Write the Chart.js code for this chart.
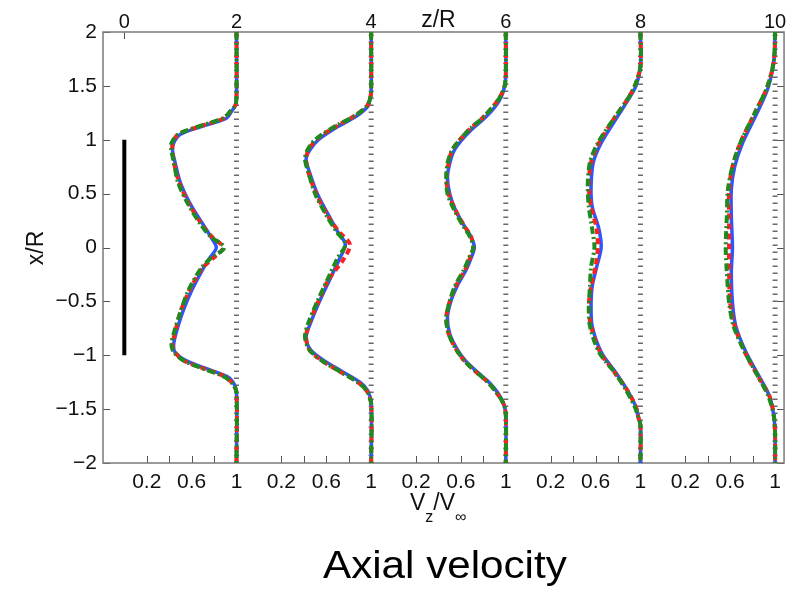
<!DOCTYPE html>
<html>
<head>
<meta charset="utf-8">
<script src="https://cdn.jsdelivr.net/npm/chart.js@4.4.0/dist/chart.umd.min.js"></script>
<style>html,body{margin:0;padding:0;background:#fff}</style>
</head>
<body>
<canvas id="c" width="790" height="590"></canvas>
<script>
// z/R stations of the profiles; each block holds V_z/V_inf from 0 to 1
const zStations = [2, 4, 6, 8, 10];
const blockGap = 1.2;

const topTickVals = [0, 1, 2.2, 2.8, 3.4, 4.6, 5.8];
const topTickLabels = ['0', '2', '4', 'z/R', '6', '8', '10'];
const vzTickVals = [0.2, 0.4, 0.6, 0.8, 1];
const vzTickLabels = ['0.2', '', '0.6', '', '1'];

// turbine disc (black bar at z/R = 0)
const turbineY = [-1, 1];

// z/R = 2
const y1 = [2, 1.4, 1.32, 1.27, 1.2, 1.12, 1.05, 0.97, 0.9, 0.8, 0.6, 0.4, 0.2, 0.1, 0, -0.1, -0.2, -0.4, -0.6, -0.8, -0.9, -0.97, -1.05, -1.12, -1.2, -1.27, -1.35, -2];
const blue1 = [1, 1, 0.99, 0.96, 0.91, 0.68, 0.5, 0.44, 0.43, 0.45, 0.5, 0.59, 0.71, 0.77, 0.82, 0.76, 0.7, 0.6, 0.52, 0.46, 0.44, 0.45, 0.55, 0.72, 0.92, 0.98, 1, 1];
const red1 = [1, 1, 0.99, 0.95, 0.89, 0.66, 0.48, 0.43, 0.43, 0.44, 0.49, 0.58, 0.7, 0.78, 0.88, 0.79, 0.69, 0.58, 0.5, 0.45, 0.43, 0.45, 0.53, 0.7, 0.9, 0.97, 1, 1];
const green1 = [1, 1, 0.99, 0.95, 0.88, 0.65, 0.48, 0.42, 0.42, 0.44, 0.48, 0.57, 0.69, 0.77, 0.89, 0.77, 0.68, 0.57, 0.5, 0.44, 0.42, 0.44, 0.53, 0.69, 0.89, 0.97, 1, 1];

// z/R = 4
const y2 = [2, 1.45, 1.38, 1.31, 1.22, 1.12, 1.0, 0.9, 0.82, 0.7, 0.5, 0.3, 0.15, 0.03, -0.1, -0.3, -0.5, -0.7, -0.83, -0.95, -1.05, -1.15, -1.25, -1.33, -1.45, -2];
const blue2 = [1, 1, 0.99, 0.97, 0.87, 0.7, 0.53, 0.45, 0.42, 0.45, 0.52, 0.62, 0.7, 0.77, 0.72, 0.63, 0.54, 0.46, 0.42, 0.46, 0.58, 0.74, 0.9, 0.97, 1, 1];
const red2 = [1, 1, 0.99, 0.96, 0.85, 0.68, 0.51, 0.44, 0.42, 0.44, 0.51, 0.61, 0.71, 0.81, 0.76, 0.62, 0.53, 0.45, 0.42, 0.45, 0.56, 0.72, 0.88, 0.96, 1, 1];
const green2 = [1, 1, 0.99, 0.96, 0.85, 0.67, 0.5, 0.43, 0.41, 0.44, 0.5, 0.6, 0.69, 0.77, 0.7, 0.61, 0.52, 0.44, 0.41, 0.45, 0.56, 0.72, 0.88, 0.96, 1, 1];

// z/R = 6
const y3 = [2, 1.6, 1.5, 1.4, 1.3, 1.2, 1.1, 1.0, 0.9, 0.78, 0.65, 0.5, 0.35, 0.2, 0.1, 0, -0.1, -0.2, -0.35, -0.5, -0.65, -0.8, -0.95, -1.05, -1.15, -1.25, -1.35, -1.45, -1.55, -2];
const blue3 = [1, 1, 0.99, 0.96, 0.9, 0.81, 0.7, 0.61, 0.54, 0.5, 0.48, 0.5, 0.55, 0.63, 0.69, 0.72, 0.69, 0.65, 0.57, 0.51, 0.48, 0.5, 0.57, 0.64, 0.74, 0.85, 0.93, 0.98, 1, 1];
const red3 = [1, 1, 0.99, 0.95, 0.88, 0.79, 0.68, 0.59, 0.52, 0.49, 0.47, 0.49, 0.55, 0.63, 0.69, 0.71, 0.68, 0.64, 0.56, 0.5, 0.47, 0.49, 0.56, 0.63, 0.73, 0.84, 0.92, 0.98, 1, 1];
const green3 = [1, 1, 0.99, 0.95, 0.88, 0.79, 0.68, 0.59, 0.52, 0.48, 0.47, 0.48, 0.54, 0.62, 0.68, 0.71, 0.67, 0.63, 0.55, 0.5, 0.47, 0.49, 0.56, 0.63, 0.73, 0.84, 0.92, 0.98, 1, 1];

// z/R = 8
const y4 = [2, 1.68, 1.5, 1.37, 1.19, 0.97, 0.79, 0.57, 0.38, 0.17, 0, -0.18, -0.36, -0.55, -0.73, -0.97, -1.16, -1.32, -1.48, -1.57, -1.65, -2];
const blue4 = [1, 1, 0.96, 0.89, 0.78, 0.65, 0.58, 0.56, 0.57, 0.63, 0.65, 0.61, 0.57, 0.56, 0.57, 0.65, 0.78, 0.88, 0.96, 0.98, 1, 1];
const red4 = [1, 1, 0.95, 0.88, 0.76, 0.63, 0.56, 0.54, 0.56, 0.61, 0.62, 0.6, 0.56, 0.54, 0.56, 0.64, 0.77, 0.88, 0.96, 0.98, 1, 1];
const green4 = [1, 1, 0.95, 0.88, 0.76, 0.62, 0.55, 0.53, 0.54, 0.57, 0.59, 0.56, 0.55, 0.54, 0.55, 0.63, 0.77, 0.87, 0.95, 0.98, 1, 1];

// z/R = 10
const y5 = [2, 1.74, 1.49, 1.25, 0.97, 0.75, 0.54, 0.29, 0, -0.23, -0.51, -0.73, -0.97, -1.2, -1.38, -1.57, -1.75, -2];
const blue5 = [1, 0.99, 0.94, 0.84, 0.71, 0.64, 0.61, 0.61, 0.62, 0.61, 0.62, 0.65, 0.74, 0.86, 0.95, 0.99, 1, 1];
const red5 = [1, 0.99, 0.93, 0.82, 0.69, 0.62, 0.59, 0.59, 0.59, 0.59, 0.6, 0.64, 0.73, 0.85, 0.95, 0.99, 1, 1];
const green5 = [1, 0.99, 0.93, 0.82, 0.69, 0.62, 0.58, 0.57, 0.56, 0.57, 0.59, 0.63, 0.73, 0.85, 0.94, 0.99, 1, 1];

const yBlocks = [y1, y2, y3, y4, y5];
const blueBlocks = [blue1, blue2, blue3, blue4, blue5];
const redBlocks = [red1, red2, red3, red4, red5];
const greenBlocks = [green1, green2, green3, green4, green5];

const FONT = '"Liberation Sans", Arial, Helvetica, sans-serif';

function pts(ys, vs, off) {
  return ys.map((y, i) => ({ x: off + vs[i], y: y }));
}

function profileSets(blocks, color, width, dash) {
  return blocks.map((vs, k) => ({
    data: pts(yBlocks[k], vs, k * blockGap),
    borderColor: color,
    borderWidth: width,
    borderDash: dash,
    showLine: true,
    pointRadius: 0,
    tension: 0.3
  }));
}

const datasets = [
  ...profileSets(greenBlocks, '#1f8a1f', 4, [8, 3, 2, 3]),
  ...profileSets(redBlocks, '#ff1f1f', 4, [6, 4]),
  ...profileSets(blueBlocks, '#2f55ff', 3.5, []),
  // dotted reference lines at V_z/V_inf = 1
  ...zStations.map((z, k) => ({
    data: [{ x: k * blockGap + 1, y: -2 }, { x: k * blockGap + 1, y: 2 }],
    borderColor: '#6a6a6a',
    borderWidth: 5,
    borderDash: [1.6, 5.4],
    showLine: true,
    pointRadius: 0
  })),
  {
    data: turbineY.map(y => ({ x: 0, y: y })),
    borderColor: '#000',
    borderWidth: 4,
    showLine: true,
    pointRadius: 0
  }
];

const bottomTickVals = zStations.flatMap((z, k) => vzTickVals.map(v => k * blockGap + v));

const frame = {
  id: 'frame',
  beforeDatasetsDraw(chart) {
    const { ctx, chartArea: a, scales } = chart;
    const len = 7;
    ctx.save();
    ctx.strokeStyle = '#555';
    ctx.lineWidth = 1;
    ctx.beginPath();
    scales.x.ticks.forEach(t => {
      const px = Math.round(scales.x.getPixelForValue(t.value)) + 0.5;
      ctx.moveTo(px, a.bottom); ctx.lineTo(px, a.bottom - len);
    });
    scales.x2.ticks.forEach((t, i) => {
      if (topTickLabels[i] === 'z/R') return;
      const px = Math.round(scales.x2.getPixelForValue(t.value)) + 0.5;
      ctx.moveTo(px, a.top); ctx.lineTo(px, a.top + len);
    });
    scales.y.ticks.forEach(t => {
      const py = Math.round(scales.y.getPixelForValue(t.value)) + 0.5;
      ctx.moveTo(a.left, py); ctx.lineTo(a.left + len, py);
      ctx.moveTo(a.right, py); ctx.lineTo(a.right - len, py);
    });
    ctx.stroke();
    ctx.strokeStyle = '#7a7a7a';
    ctx.lineWidth = 1.5;
    ctx.strokeRect(a.left, a.top, a.right - a.left, a.bottom - a.top);
    ctx.restore();
  },
  afterDraw(chart) {
    const ctx = chart.ctx;
    ctx.save();
    ctx.fillStyle = '#111';
    // y axis title
    ctx.translate(37, 248);
    ctx.rotate(-Math.PI / 2);
    ctx.font = '23px ' + FONT;
    ctx.textAlign = 'center';
    ctx.textBaseline = 'middle';
    ctx.fillText('x/R', 0, 0);
    ctx.restore();

    // V_z / V_inf
    ctx.save();
    ctx.fillStyle = '#111';
    ctx.textBaseline = 'alphabetic';
    ctx.textAlign = 'left';
    const big = '23px ' + FONT, small = '16px ' + FONT;
    const parts = [['V', big, 510], ['z', small, 522], ['/', big, 510], ['V', big, 510], ['\u221E', small, 522]];
    let x = 410;
    parts.forEach(([s, f, b]) => {
      ctx.font = f;
      ctx.fillText(s, x, b);
      x += ctx.measureText(s).width;
    });

    // caption
    ctx.fillStyle = '#000';
    ctx.font = '38px ' + FONT;
    ctx.scale(1.11, 1);
    ctx.fillText('Axial velocity', 323 / 1.11, 578);
    ctx.restore();
  }
};

new Chart(document.getElementById('c'), {
  type: 'scatter',
  data: { datasets: datasets },
  plugins: [frame],
  options: {
    responsive: false,
    animation: false,
    devicePixelRatio: 1,
    layout: { padding: 0 },
    plugins: { legend: { display: false }, tooltip: { enabled: false } },
    scales: {
      x: {
        type: 'linear', position: 'bottom', min: -0.19, max: 5.88,
        grid: { display: false, drawTicks: false },
        border: { display: false },
        afterBuildTicks: s => { s.ticks = bottomTickVals.map(v => ({ value: v })); },
        afterFit: s => { s.height = 127; },
        ticks: {
          autoSkip: false, maxRotation: 0, minRotation: 0, padding: 9,
          color: '#111', font: { family: FONT, size: 21, lineHeight: 1 },
          callback: (v, i) => vzTickLabels[i % vzTickLabels.length]
        }
      },
      x2: {
        type: 'linear', position: 'top', min: -0.19, max: 5.88,
        grid: { display: false, drawTicks: false },
        border: { display: false },
        afterBuildTicks: s => { s.ticks = topTickVals.map(v => ({ value: v })); },
        afterFit: s => { s.height = 32; },
        ticks: {
          autoSkip: false, maxRotation: 0, minRotation: 0, padding: 0,
          color: '#111',
          font: c => ({ family: FONT, size: topTickLabels[c.index] === 'z/R' ? 23 : 20, lineHeight: 1 }),
          callback: (v, i) => topTickLabels[i]
        }
      },
      y: {
        type: 'linear', position: 'left', min: -2, max: 2,
        grid: { display: false, drawTicks: false },
        border: { display: false },
        afterFit: s => { s.width = 103; },
        ticks: {
          stepSize: 0.5, padding: 6, color: '#111',
          font: { family: FONT, size: 21 },
          callback: v => String(v).replace('-', '\u2212')
        }
      },
      y2: {
        type: 'linear', position: 'right', min: -2, max: 2,
        grid: { display: false, drawTicks: false },
        border: { display: false },
        afterFit: s => { s.width = 4; },
        ticks: { stepSize: 0.5, display: false }
      }
    }
  }
});
</script>
</body>
</html>
